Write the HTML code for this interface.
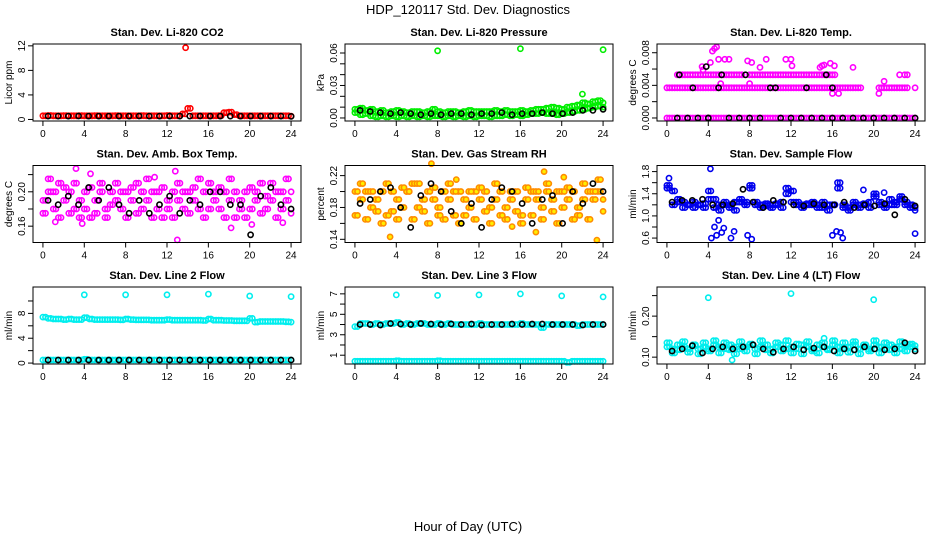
<!DOCTYPE html>
<html><head><meta charset="utf-8">
<style>
html,body{margin:0;padding:0;background:#fff;}
svg{display:block;font-family:"Liberation Sans",sans-serif;}
</style></head>
<body>
<svg id="chart" width="936" height="540" viewBox="0 0 936 540">
<text x="468" y="14" text-anchor="middle" font-size="13">HDP_120117  Std. Dev. Diagnostics</text>
<text x="468" y="531" text-anchor="middle" font-size="13">Hour of Day (UTC)</text>
</svg>
<script>
// ---- data ----
const p1Red=[0.6,0.65,0.6,0.6,0.62,0.6,0.6,0.61,0.6,0.6,0.62,0.6,0.6,0.6,0.62,0.6,0.6,0.6,0.6,0.62,0.6,0.6,0.6,0.6,0.65,0.6,0.6,0.9,1.8,0.6,0.6,0.6,0.6,0.6,0.62,1.1,1.2,0.8,0.6,0.6,0.6,0.6,0.6,0.6,0.6,0.6,0.6,0.6,0.55];
const p1OutX=[13.8];
const p1OutY=[11.7];
const p1Black=[0.55,0.55,0.55,0.56,0.55,0.55,0.55,0.55,0.55,0.56,0.55,0.55,0.55,0.55,0.55,0.56,0.55,0.55,0.55,0.55,0.55,0.55,0.55,0.55,0.5];

const p2GreenA=[0.008,0.009,0.007,0.008,0.006,0.007,0.005,0.006,0.007,0.006,0.005,0.006,0.006,0.005,0.006,0.008,0.006,0.005,0.006,0.006,0.005,0.006,0.007,0.006,0.006,0.006,0.006,0.007,0.006,0.007,0.006,0.006,0.007,0.006,0.007,0.008,0.008,0.009,0.010,0.009,0.008,0.010,0.011,0.012,0.014,0.013,0.015,0.016,0.014];
const p2GreenB=[0.005,0.003,0.004,0.002,0.001,0.002,0.001,0.002,0.001,0.002,0.001,0.002,0.001,0.002,0.001,0.002,0.002,0.001,0.002,0.001,0.002,0.001,0.002,0.001,0.002,0.002,0.001,0.002,0.002,0.003,0.002,0.003,0.002,0.003,0.004,0.004,0.005,0.004,0.004,0.003,0.004,0.005,0.006,0.007,0.008,0.009,0.01,0.011,0.01];
const p2OutX=[8,16,24,22];
const p2OutY=[0.062,0.064,0.063,0.022];
const p2Black=[0.007,0.006,0.005,0.004,0.005,0.004,0.003,0.004,0.003,0.004,0.004,0.003,0.004,0.004,0.005,0.003,0.004,0.004,0.005,0.004,0.004,0.005,0.007,0.007,0.008];

const p3Zero=[0,0,0,0,0,0,0,0,0,0,0,0,0,0,0,0,0,0,0,0,0,0,0,0,0,0,0,0,0,0,0,0,0,0,0,0,0,0,0,0,0,0,0,0,0,0,0,0,0];
const p3Mid=[0.0037,0.0037,0.0037,0.0037,0.0037,0.0037,0.0037,0.0037,0.0037,0.0037,0.0037,0.0037,0.0037,0.0037,0.0037,0.0037,0.0037,0.0037,0.0037,0.0037,0.0037,0.0037,0.0037,0.0037,0.0037,0.0037,0.0037,0.0037,0.0037,0.0037,0.0037,0.0037,0.0037,0.0037,0.0037,0.0037,0.0037,0.0037,null,null,null,0.0037,0.0037,0.0037,0.0037,0.0037,0.0037,null,0.0037];
const p3High=[null,null,0.0053,0.0053,0.0053,0.0053,0.0053,0.0053,0.0053,0.0053,0.0053,0.0053,0.0053,0.0053,0.0053,null,0.0053,0.0053,0.0053,0.0053,0.0053,0.0053,0.0053,0.0053,0.0053,0.0053,0.0053,0.0053,0.0053,0.0053,0.0053,0.0053,0.0053,null,null,null,null,null,null,null,null,null,null,null,null,null,0.0053,null,null];
const p3OutX=[3.4,4.2,4.4,4.6,4.8,5.0,5.6,6.0,7.8,8.2,9.6,11.5,12.1,14.8,15.2,15.8,16.2,3.5,5.2,8.0,9.0,12.0,15.0,16.0,16.6,18.0,20.5,21.0,22.5];
const p3OutY=[0.0063,0.0068,0.0082,0.0085,0.0087,0.0072,0.0072,0.0072,0.0070,0.0068,0.0072,0.0072,0.0064,0.0062,0.0065,0.0067,0.0064,0.0059,0.0042,0.0042,0.0062,0.0072,0.0064,0.0030,0.0030,0.0062,0.0030,0.0045,0.0053];
const p3BlackX=[1,2,3,4,4,5,6,7,8,9,10,11,12,13,14,15,16,16,17,18,19,20,21,22,23,24,1.2,2.5,3.8,5.3,7.6,10.5,13.5,15.4];
const p3BlackY=[0,0,0,0,0,0.0037,0,0,0,0,0.0037,0,0,0,0,0,0,0.0037,0,0,0,0,0,0,0,0,0.0053,0.0037,0.0063,0.0053,0.0053,0.0037,0.0037,0.0053];

const p4A=[0.19,0.2,0.18,0.21,0.19,0.2,0.18,0.19,0.2,0.17,0.19,0.21,0.18,0.2,0.19,0.18,0.2,0.19,0.21,0.18,0.19,0.2,0.18,0.17,0.19,0.2,0.19,0.18,0.2,0.19,0.18,0.2,0.21,0.19,0.18,0.2,0.19,0.17,0.19,0.2,0.18,0.19,0.21,0.18,0.19,0.2,0.18,0.19,0.2];
const p4B=[0.175,0.215,0.2,0.17,0.205,0.175,0.21,0.17,0.18,0.205,0.175,0.2,0.17,0.185,0.21,0.2,0.17,0.205,0.175,0.2,0.215,0.17,0.2,0.205,0.18,0.17,0.21,0.2,0.175,0.205,0.215,0.17,0.18,0.2,0.205,0.17,0.215,0.2,0.18,0.17,0.205,0.2,0.175,0.195,0.21,0.17,0.2,0.215,0.175];
const p4OutX=[3.2,4.6,12.8,13.0,1.2,18.2,3.8,10.8,20.2,23.2];
const p4OutY=[0.227,0.221,0.224,0.144,0.165,0.158,0.163,0.217,0.162,0.164];
const p4Black=[0.19,0.185,0.195,0.185,0.205,0.19,0.205,0.185,0.175,0.19,0.175,0.185,0.195,0.175,0.19,0.185,0.2,0.2,0.185,0.185,0.15,0.195,0.205,0.185,0.18];

const p5A=[0.2,0.19,0.2,0.18,0.19,0.2,0.17,0.2,0.19,0.18,0.2,0.21,0.18,0.19,0.2,0.19,0.18,0.2,0.19,0.17,0.2,0.19,0.18,0.2,0.19,0.2,0.18,0.19,0.2,0.18,0.19,0.2,0.17,0.19,0.2,0.19,0.18,0.2,0.19,0.2,0.18,0.19,0.2,0.18,0.19,0.2,0.19,0.2,0.19];
const p5B=[0.17,0.21,0.165,0.2,0.175,0.16,0.21,0.175,0.165,0.205,0.2,0.165,0.21,0.175,0.16,0.205,0.17,0.165,0.21,0.2,0.16,0.17,0.2,0.165,0.205,0.175,0.16,0.21,0.17,0.165,0.2,0.175,0.16,0.205,0.17,0.2,0.165,0.21,0.175,0.16,0.2,0.205,0.165,0.17,0.21,0.165,0.2,0.215,0.175];
const p5OutX=[3.4,7.4,18.3,23.4,9.8,20.2,15.2,17.5];
const p5OutY=[0.143,0.235,0.225,0.139,0.215,0.218,0.156,0.149];
const p5Black=[0.185,0.19,0.2,0.205,0.18,0.155,0.195,0.21,0.2,0.175,0.16,0.185,0.155,0.19,0.205,0.2,0.185,0.16,0.19,0.195,0.16,0.2,0.185,0.21,0.2];

const p6A=[1.5,1.45,1.3,1.25,1.2,1.25,1.2,1.22,1.45,1.3,1.2,1.25,1.2,1.25,1.25,1.2,1.5,1.25,1.2,1.22,1.2,1.22,1.25,1.4,1.45,1.25,1.2,1.22,1.2,1.2,1.25,1.2,1.2,1.5,1.2,1.15,1.25,1.2,1.22,1.25,1.35,1.25,1.2,1.2,1.25,1.3,1.25,1.2,1.15];
const p6B=[1.55,1.2,1.25,1.15,1.2,1.15,1.2,1.15,1.3,1.15,1.1,1.2,1.15,1.1,1.3,1.25,1.55,1.2,1.15,1.18,1.15,1.2,1.15,1.5,1.25,1.2,1.15,1.2,1.25,1.15,1.15,1.1,1.2,1.6,1.15,1.1,1.2,1.15,1.2,1.15,1.4,1.2,1.15,1.3,1.2,1.35,1.2,1.15,1.1];
const p6OutX=[4.3,4.6,4.8,5.0,5.3,5.5,6.2,6.5,7.8,8.2,4.2,16.0,16.4,16.8,17.0,19.0,21.0,24.0,0.2];
const p6OutY=[0.6,0.8,0.65,0.92,0.7,0.78,0.6,0.72,0.65,0.58,1.85,0.65,0.72,0.7,0.6,1.47,1.42,0.68,1.68];
const p6Black=[1.25,1.28,1.28,1.3,1.2,1.2,1.22,1.48,1.25,1.15,1.28,1.25,1.2,1.18,1.22,1.2,1.2,1.25,1.15,1.2,1.18,1.22,1.02,1.3,1.18];

const p7Hi=[7.4,7.2,7.1,7.1,7.0,7.1,7.0,7.0,7.3,7.1,7.0,7.0,7.0,7.0,7.0,6.95,7.1,7.0,6.95,6.95,6.95,6.9,6.9,6.9,7.0,6.9,6.9,6.9,6.9,6.9,6.9,6.85,7.1,6.9,6.9,6.85,6.85,6.8,6.8,6.8,7.2,6.6,6.7,6.7,6.7,6.7,6.7,6.65,6.6];
const p7Lo=[0.5,0.5,0.5,0.5,0.5,0.5,0.5,0.5,0.6,0.5,0.5,0.5,0.5,0.5,0.5,0.5,0.5,0.5,0.5,0.5,0.5,0.5,0.5,0.5,0.5,0.5,0.5,0.5,0.5,0.5,0.5,0.5,0.5,0.5,0.5,0.5,0.5,0.5,0.5,0.5,0.5,0.5,0.5,0.5,0.5,0.5,0.5,0.5,0.5];
const p7OutX=[4,8,12,16,20,24];
const p7OutY=[11.0,11.0,11.0,11.1,10.8,10.7];
const p7Black=[0.5,0.5,0.5,0.5,0.5,0.5,0.5,0.5,0.5,0.5,0.5,0.5,0.5,0.5,0.5,0.5,0.5,0.5,0.5,0.5,0.5,0.5,0.5,0.5,0.5];

const p8Hi=[3.8,4.1,4.1,4.0,4.1,4.0,4.1,4.1,4.2,4.0,4.1,4.0,4.1,4.1,4.0,4.0,4.1,4.0,4.1,4.0,4.0,4.0,4.0,4.0,4.1,4.0,4.0,4.0,4.0,4.0,4.0,4.0,4.1,4.0,4.0,4.0,3.7,4.0,4.0,4.0,4.0,4.0,4.0,3.9,4.0,4.0,4.0,4.0,4.0];
const p8Lo=[0.4,0.4,0.4,0.4,0.4,0.4,0.4,0.4,0.45,0.4,0.4,0.4,0.4,0.4,0.4,0.4,0.45,0.4,0.4,0.4,0.4,0.4,0.4,0.4,0.4,0.4,0.4,0.4,0.4,0.4,0.4,0.4,0.4,0.4,0.4,0.4,0.4,0.4,0.4,0.4,0.4,0.3,0.4,0.4,0.4,0.4,0.4,0.4,0.4];
const p8OutX=[4,8,12,16,20,24];
const p8OutY=[6.9,6.85,6.9,7.0,6.8,6.7];
const p8Black=[4.0,4.0,3.95,4.1,4.05,4.0,4.1,4.05,4.0,4.05,4.0,4.05,3.95,4.0,4.0,4.05,4.0,4.05,4.05,4.0,4.0,4.0,3.95,4.0,4.0];

const p9A=[0.125,0.12,0.13,0.125,0.12,0.13,0.12,0.125,0.12,0.13,0.125,0.12,0.13,0.125,0.12,0.125,0.13,0.12,0.125,0.13,0.12,0.125,0.13,0.12,0.125,0.12,0.13,0.125,0.12,0.13,0.125,0.12,0.13,0.125,0.12,0.125,0.13,0.12,0.125,0.12,0.13,0.125,0.12,0.13,0.125,0.12,0.13,0.125,0.12];
const p9B=[0.135,0.11,0.118,0.138,0.112,0.128,0.108,0.135,0.115,0.14,0.11,0.135,0.118,0.108,0.138,0.115,0.132,0.108,0.14,0.118,0.11,0.135,0.115,0.14,0.11,0.132,0.108,0.138,0.115,0.11,0.135,0.118,0.14,0.11,0.135,0.112,0.138,0.108,0.13,0.115,0.14,0.11,0.135,0.118,0.11,0.138,0.115,0.132,0.128];
const p9OutX=[4,12,20,6.3,15.2];
const p9OutY=[0.245,0.255,0.24,0.093,0.146];
const p9Black=[0.115,0.12,0.128,0.11,0.12,0.125,0.12,0.125,0.13,0.12,0.112,0.12,0.125,0.118,0.122,0.125,0.115,0.12,0.118,0.125,0.12,0.118,0.12,0.135,0.115];

// ---- tick labels ----
const xTicks=[0,4,8,12,16,20,24];
const p1Ticks=[0,4,8,12], p1Labels=["0","4","8","12"];
const p2Ticks=[0,0.01,0.02,0.03,0.04,0.05,0.06], p2Labels=["0.00","","","0.03","","","0.06"];
const p3Ticks=[0,0.002,0.004,0.006,0.008], p3Labels=["0.000","","0.004","","0.008"];
const p4Ticks=[0.16,0.18,0.20,0.22], p4Labels=["0.16","","0.20",""];
const p5Ticks=[0.14,0.16,0.18,0.20,0.22], p5Labels=["0.14","","0.18","","0.22"];
const p6Ticks=[0.6,0.8,1.0,1.2,1.4,1.6,1.8], p6Labels=["0.6","","1.0","","1.4","","1.8"];
const p7Ticks=[0,2,4,6,8,10], p7Labels=["0","","4","","8",""];
const p8Ticks=[1,2,3,4,5,6,7], p8Labels=["1","","3","","5","","7"];
const p9Ticks=[0.10,0.15,0.20,0.25], p9Labels=["0.10","","0.20",""];

const panels=[
 {name:"co2",title:"Stan. Dev. Li-820 CO2",ylab:"Licor ppm",ylo:-0.25,yhi:12.3,ticks:p1Ticks,labels:p1Labels,color:"#ff0000",series:[p1Red],outX:p1OutX,outY:p1OutY,black:p1Black},
 {name:"pressure",title:"Stan. Dev. Li-820 Pressure",ylab:"kPa",ylo:-0.0028,yhi:0.0683,ticks:p2Ticks,labels:p2Labels,color:"#00ee00",series:[p2GreenA,p2GreenB],outX:p2OutX,outY:p2OutY,black:p2Black},
 {name:"temp",title:"Stan. Dev. Li-820 Temp.",ylab:"degrees C",ylo:-0.00037,yhi:0.00907,ticks:p3Ticks,labels:p3Labels,color:"#ff00ff",series:[p3Zero,p3Mid,p3High],outX:p3OutX,outY:p3OutY,blackX:p3BlackX,blackY:p3BlackY},
 {name:"amb-box-temp",title:"Stan. Dev. Amb. Box Temp.",ylab:"degrees C",ylo:0.141,yhi:0.2306,ticks:p4Ticks,labels:p4Labels,color:"#ff00ff",series:[p4A,p4B],outX:p4OutX,outY:p4OutY,black:p4Black},
 {name:"gas-stream-rh",title:"Stan. Dev. Gas Stream RH",ylab:"percent",ylo:0.136,yhi:0.2327,ticks:p5Ticks,labels:p5Labels,color:"#ff8c00",fill:"#ffee00",series:[p5A,p5B],outX:p5OutX,outY:p5OutY,black:p5Black},
 {name:"sample-flow",title:"Stan. Dev. Sample Flow",ylab:"ml/min",ylo:0.52,yhi:1.91,ticks:p6Ticks,labels:p6Labels,color:"#0000ee",series:[p6A,p6B],outX:p6OutX,outY:p6OutY,black:p6Black},
 {name:"line2-flow",title:"Stan. Dev. Line 2 Flow",ylab:"ml/min",ylo:-0.15,yhi:12.25,ticks:p7Ticks,labels:p7Labels,color:"#00eeee",series:[p7Hi,p7Lo],outX:p7OutX,outY:p7OutY,black:p7Black},
 {name:"line3-flow",title:"Stan. Dev. Line 3 Flow",ylab:"ml/min",ylo:0.14,yhi:7.67,ticks:p8Ticks,labels:p8Labels,color:"#00eeee",series:[p8Hi,p8Lo],outX:p8OutX,outY:p8OutY,black:p8Black},
 {name:"line4-flow",title:"Stan. Dev. Line 4 (LT) Flow",ylab:"ml/min",ylo:0.0833,yhi:0.271,ticks:p9Ticks,labels:p9Labels,color:"#00eeee",series:[p9A,p9B],outX:p9OutX,outY:p9OutY,black:p9Black}
];

const NS="http://www.w3.org/2000/svg";
const svg=document.getElementById("chart");
function mk(tag,attrs,parent){const e=document.createElementNS(NS,tag);for(const k in attrs)e.setAttribute(k,attrs[k]);(parent||svg).appendChild(e);return e;}

panels.forEach((p,i)=>{
  const c=i%3,r=Math.floor(i/3);
  const L=33+312*c,T=44+121.5*r,W=268,H=77;
  const xs=v=>L+(v+0.96)/25.92*W;
  const ys=v=>T+H-(v-p.ylo)/(p.yhi-p.ylo)*H;
  const g=mk("g",{});
  
  
  const t=mk("text",{x:L+W/2,y:T-8,"text-anchor":"middle","font-size":"11","font-weight":"bold"},g);
  t.textContent=p.title;
  
  
  const yl=mk("text",{x:0,y:0,transform:`translate(${L-21},${T+H/2}) rotate(-90)`,"text-anchor":"middle","font-size":"10"},g);
  yl.textContent=p.ylab;
  
  
  const pts=mk("g",{fill:"none"},g);
  
  
  const dot=(x,y,col,fill,sw)=>{const e=mk("circle",{cx:xs(x).toFixed(1),cy:ys(y).toFixed(1),r:2.6,stroke:col,"stroke-width":sw,fill:fill||"none"},pts);
    
    };
  p.series.forEach(s=>{s.forEach((v,k)=>{if(v!==null)dot(k*24/(s.length-1),v,p.color,p.fill,1.6);});
    s.forEach((v,k)=>{if(v!==null&&k<s.length-1)dot((k+0.5)*24/(s.length-1),v,p.color,p.fill,1.6);});});
  p.outX.forEach((x,k)=>dot(x,p.outY[k],p.color,p.fill,1.6));
  if(p.black) p.black.forEach((v,k)=>dot(0.5+k*23.5/(p.black.length-1),v,"#000",null,1.6));
  if(p.blackX) p.blackX.forEach((x,k)=>dot(x,p.blackY[k],"#000",null,1.6));
  // box
  const b=mk("rect",{x:L,y:T,width:W,height:H,fill:"none",stroke:"#000","stroke-width":1},g);
  
  
  // x axis
  xTicks.forEach(v=>{const x=xs(v);
    mk("line",{x1:x,x2:x,y1:T+H,y2:T+H+5,stroke:"#000"},g);
    const tl=mk("text",{x:x,y:T+H+16,"text-anchor":"middle","font-size":"10"},g);
    tl.textContent=v;
    
    });
  // y axis
  p.ticks.forEach((v,k)=>{const y=ys(v);
    mk("line",{x1:L-5,x2:L,y1:y,y2:y,stroke:"#000"},g);
    if(p.labels[k]){const tl=mk("text",{x:0,y:0,transform:`translate(${L-8},${y}) rotate(-90)`,"text-anchor":"middle","font-size":"10"},g);
      tl.textContent=p.labels[k];
      
      }});
});
</script>
</body></html>
